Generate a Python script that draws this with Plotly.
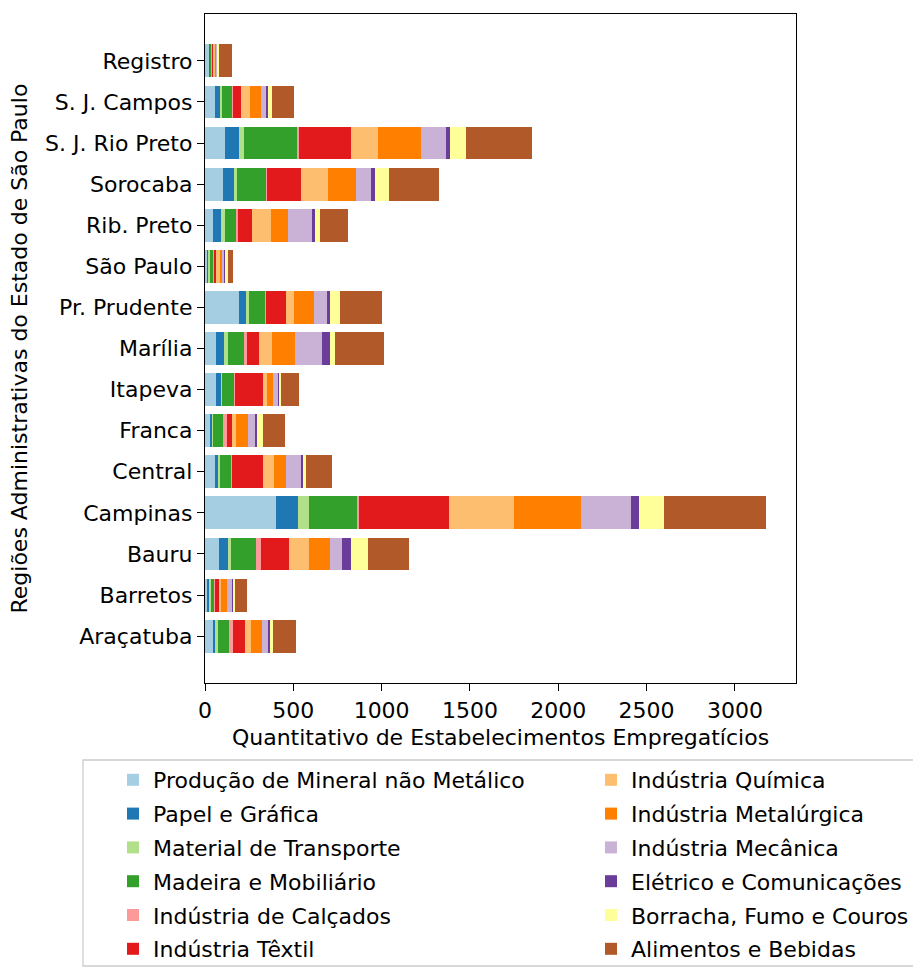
import plotly.graph_objects as go

regions = ["Araçatuba", "Barretos", "Bauru", "Campinas", "Central", "Franca", "Itapeva",
           "Marília", "Pr. Prudente", "São Paulo", "Rib. Preto", "Sorocaba",
           "S. J. Rio Preto", "S. J. Campos", "Registro"]

categories = ["Produção de Mineral não Metálico", "Papel e Gráfica", "Material de Transporte",
              "Madeira e Mobiliário", "Indústria de Calçados", "Indústria Têxtil",
              "Indústria Química", "Indústria Metalúrgica", "Indústria Mecânica",
              "Elétrico e Comunicações", "Borracha, Fumo e Couros", "Alimentos e Bebidas"]

mineral     = [43, 13, 82, 401, 55, 26, 64, 64, 191, 13, 47, 104, 113, 58, 23]
papel       = [17, 13, 46, 126, 21, 15, 32, 45, 45, 9, 42, 64, 81, 32, 6]
transporte  = [11, 6, 22, 59, 11, 6, 2, 21, 11, 6, 25, 11, 25, 8, 2]
madeira     = [64, 19, 141, 277, 62, 55, 68, 91, 96, 19, 66, 168, 304, 57, 6]
calcados    = [21, 6, 26, 11, 2, 21, 4, 17, 4, 4, 6, 4, 8, 2, 4]
textil      = [70, 25, 158, 505, 177, 32, 160, 68, 109, 9, 79, 191, 296, 47, 8]
quimica     = [34, 9, 113, 371, 60, 19, 19, 74, 49, 25, 108, 155, 153, 51, 8]
metalurgica = [62, 32, 119, 379, 68, 72, 34, 132, 111, 15, 98, 160, 245, 62, 8]
mecanica    = [40, 32, 69, 282, 92, 42, 32, 149, 72, 9, 140, 83, 138, 26, 4]
eletrico    = [6, 6, 50, 46, 8, 9, 4, 45, 19, 6, 11, 25, 23, 13, 2]
borracha    = [15, 8, 98, 143, 13, 32, 11, 28, 55, 13, 30, 77, 91, 21, 8]
alimentos   = [130, 68, 230, 576, 149, 123, 102, 281, 242, 30, 155, 285, 373, 126, 74]

series = [mineral, papel, transporte, madeira, calcados, textil,
          quimica, metalurgica, mecanica, eletrico, borracha, alimentos]

colors = ['#a6cee3', '#1f78b4', '#b2df8a', '#33a02c', '#fb9a99', '#e31a1c',
          '#fdbf6f', '#ff7f00', '#cab2d6', '#6a3d9a', '#ffff99', '#b15928']

xticks = [0, 500, 1000, 1500, 2000, 2500, 3000]

FONT = "DejaVu Sans"
FS = 22
W, H = 913, 967
L, R, T, B = 205, 796, 14, 683

fig = go.Figure()
for i, (name, vals, col) in enumerate(zip(categories, series, colors)):
    fig.add_trace(go.Bar(
        y=regions, x=vals, name=name, orientation='h',
        marker=dict(color=col, line=dict(width=0)),
        legend="legend" if i < 6 else "legend2",
        legendgroup=f"g{i}",
    ))

legend_common = dict(
    font=dict(family=FONT, size=FS, color="black"),
    bgcolor="rgba(0,0,0,0)", borderwidth=0,
    traceorder="grouped", tracegroupgap=2.2,
    xref="container", yref="container",
    xanchor="left", yanchor="top",
    orientation="v",
)

fig.update_layout(
    width=W, height=H,
    margin=dict(l=L, r=W - R, t=T, b=H - B, autoexpand=False),
    barmode="stack", bargap=0.2,
    plot_bgcolor="white", paper_bgcolor="white",
    font=dict(family=FONT, size=FS, color="black"),
    showlegend=True,
    legend=dict(x=113 / W, y=1 - 759 / H, **legend_common),
    legend2=dict(x=591 / W, y=1 - 759 / H, **legend_common),
    xaxis=dict(
        range=[0, 3346], tickvals=xticks, ticktext=[str(t) for t in xticks],
        showline=True, linecolor="black", linewidth=1.3, mirror=True,
        ticks="outside", ticklen=7, tickwidth=1.3, tickcolor="black",
        showgrid=False, zeroline=False,
        tickfont=dict(family=FONT, size=FS),
        title=dict(text="Quantitativo de Estabelecimentos Empregatícios",
                   font=dict(family=FONT, size=FS), standoff=8),
    ),
    yaxis=dict(
        type="category", categoryorder="array", categoryarray=regions,
        range=[-1.14, 15.14],
        showline=True, linecolor="black", linewidth=1.3, mirror=True,
        ticks="outside", ticklen=7, tickwidth=1.3, tickcolor="black",
        showgrid=False, zeroline=False,
        tickfont=dict(family=FONT, size=FS),
    ),
    annotations=[dict(
        text="Regiões Administrativas do Estado de São Paulo",
        xref="paper", yref="paper",
        x=(19 - L) / (R - L), y=0.5, xanchor="center", yanchor="middle",
        textangle=-90, showarrow=False,
        font=dict(family=FONT, size=FS, color="black"),
    )],
    shapes=[dict(
        type="rect", xref="paper", yref="paper",
        x0=(83 - L) / (R - L), x1=(930 - L) / (R - L),
        y0=(B - 966) / (B - T), y1=(B - 760) / (B - T),
        line=dict(color="#cccccc", width=1.3), fillcolor="rgba(0,0,0,0)",
        layer="below",
    )],
)

fig.write_html("out.html", config={"displayModeBar": False},
               post_script="document.body.style.margin='0';")
